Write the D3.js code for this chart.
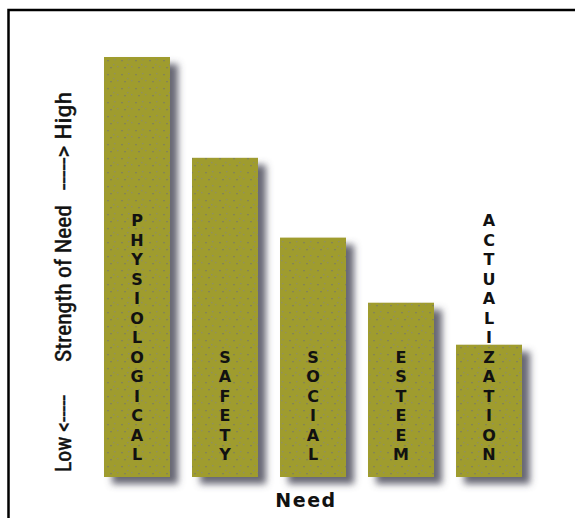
<!DOCTYPE html>
<html>
<head>
<meta charset="utf-8">
<script src="https://cdn.jsdelivr.net/npm/d3@7"></script>
<style>
  html, body { margin: 0; padding: 0; background: #fff; }
  svg { display: block; }
</style>
</head>
<body>
<svg id="chart" width="575" height="518"></svg>
<script>
// ---- data ----
const categories = ["PHYSIOLOGICAL", "SAFETY", "SOCIAL", "ESTEEM", "ACTUALIZATION"];
const strength = [100, 76, 57, 41.5, 31.5];
const yAxisLabelParts = ["Low <-----", "Strength of Need", "-----> High"];
const xAxisLabel = "Need";

const svg = d3.select("#chart");

// frame
svg.append("rect")
  .attr("x", 8.5).attr("y", 10).attr("width", 580).attr("height", 530)
  .attr("fill", "#fff").attr("stroke", "#000").attr("stroke-width", 2.5);

const defs = svg.append("defs");
const f = defs.append("filter").attr("id", "shadow")
  .attr("x", "-20%").attr("y", "-10%").attr("width", "160%").attr("height", "130%");
f.append("feDropShadow")
  .attr("dx", 8).attr("dy", 7).attr("stdDeviation", 3.5)
  .attr("flood-color", "#4e4e5c").attr("flood-opacity", 0.85);

// speckle texture
const pat = defs.append("pattern").attr("id", "speck")
  .attr("patternUnits", "userSpaceOnUse").attr("width", 14).attr("height", 14);
pat.append("rect").attr("width", 14).attr("height", 14).attr("fill", "#9f9c2d");
[[2,3],[9,4],[5,10],[12,11],[1,8]].forEach(([cx, cy], i) => {
  pat.append("rect").attr("x", cx).attr("y", cy).attr("width", i % 2 ? 2 : 1.5).attr("height", 1.3)
    .attr("fill", i % 2 ? "#80805e" : "#8c8c70").attr("opacity", 0.85);
});

const x = d3.scaleBand().domain(categories).range([93, 533])
  .paddingInner(0.25).paddingOuter(0.125);
const y = d3.scaleLinear().domain([0, 100]).range([477, 57]);

const data = categories.map((c, i) => ({ c, v: strength[i] }));

svg.append("g").selectAll("rect").data(data).join("rect")
  .attr("x", d => x(d.c))
  .attr("y", d => y(d.v))
  .attr("width", x.bandwidth())
  .attr("height", d => y(0) - y(d.v))
  .attr("fill", "url(#speck)")
  .attr("filter", "url(#shadow)");

// stacked vertical letter labels
const step = 19.5, lastBaseline = 460;
const lg = svg.append("g")
  .attr("font-family", "'DejaVu Sans', Verdana, sans-serif")
  .attr("font-weight", "bold").attr("font-size", 16).attr("fill", "#111")
  .attr("text-anchor", "middle");
data.forEach(d => {
  const letters = d.c.split("");
  const n = letters.length;
  lg.selectAll(null).data(letters).join("text")
    .attr("x", x(d.c) + x.bandwidth() / 2)
    .attr("y", (l, i) => lastBaseline - (n - 1 - i) * step)
    .text(l => l);
});

// y axis label (rotated)
const yl = svg.append("g")
  .attr("font-family", "'Liberation Sans Narrow', 'Roboto Condensed', 'Liberation Sans', sans-serif")
  .attr("font-size", 22).attr("fill", "#111")
  .attr("stroke", "#111").attr("stroke-width", 0.5);
const spans = [[472, 77], [362, 157], [190, 98]];
yAxisLabelParts.forEach((t, i) => {
  const [yb, len] = spans[i];
  yl.append("text")
    .attr("transform", `translate(71,${yb}) rotate(-90)`)
    .attr("textLength", len).attr("lengthAdjust", "spacingAndGlyphs")
    .text(t);
});

// x axis label
svg.append("text")
  .attr("x", 306).attr("y", 507)
  .attr("text-anchor", "middle")
  .attr("font-family", "'DejaVu Sans', Verdana, sans-serif")
  .attr("font-weight", "bold").attr("font-size", 19)
  .attr("letter-spacing", 1.5).attr("fill", "#111")
  .text(xAxisLabel);
</script>
</body>
</html>
